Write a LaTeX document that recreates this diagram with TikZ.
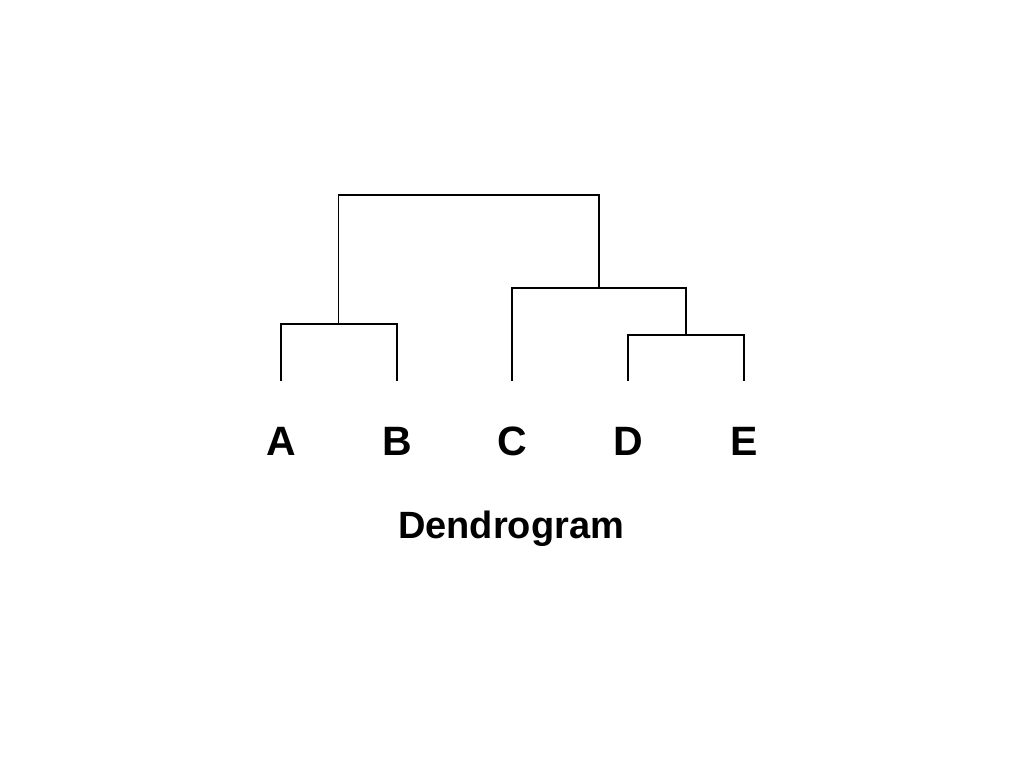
\documentclass[tikz,border=0pt]{standalone}
\usepackage{fontspec}
\setmainfont{Liberation Sans}
\begin{document}
\begin{tikzpicture}[x=1pt,y=-1pt,
  branch/.style={draw=black,line width=1.8pt,line cap=butt,line join=miter},
  leaflabel/.style={font=\fontsize{41}{48}\selectfont\bfseries,anchor=base,inner sep=0pt},
  titlelabel/.style={font=\fontsize{38}{44}\selectfont\bfseries,anchor=base,inner sep=0pt}]
\useasboundingbox (0,0) rectangle (1024,768);
% leaf tips
\coordinate (A) at (281,381);
\coordinate (B) at (397,381);
\coordinate (C) at (512,381);
\coordinate (D) at (628,381);
\coordinate (E) at (744,381);
% merge points
\coordinate (AB) at (338.5,324);
\coordinate (DE) at (686,335);
\coordinate (CDE) at (599,288);
\coordinate (ALL) at (468.5,195);
% links
\draw[branch] (A) |- (AB) -| (B);
\draw[branch] (D) |- (DE) -| (E);
\draw[branch] (C) |- (CDE) -| (DE);
\draw[branch] (AB) |- (ALL) -| (CDE);
% labels
\node[leaflabel] (lA) at (281,455) {A};
\node[leaflabel] (lB) at (397,455) {B};
\node[leaflabel] (lC) at (512,455) {C};
\node[leaflabel] (lD) at (628,455) {D};
\node[leaflabel] (lE) at (744,455) {E};
\node[titlelabel] (title) at (511,538) {Dendrogram};
\end{tikzpicture}
\end{document}
